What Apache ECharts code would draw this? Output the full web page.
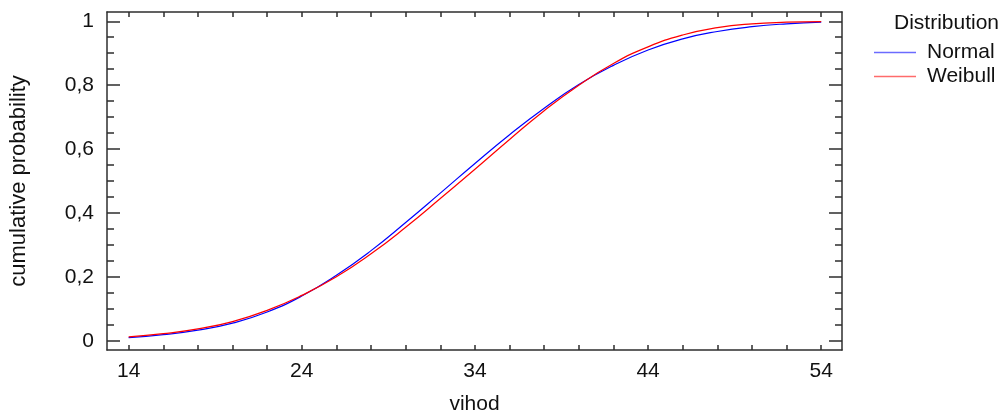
<!DOCTYPE html>
<html>
<head>
<meta charset="utf-8">
<script src="https://cdn.jsdelivr.net/npm/echarts@6/dist/echarts.min.js"></script>
<style>
  html, body { margin: 0; padding: 0; background: #fff; }
  #chart { width: 1002px; height: 414px; }
</style>
</head>
<body>
<div id="chart"></div>
<script>
// x values (vihod)
const xValues = [14, 16, 18, 20, 22, 24, 26, 28, 30, 32, 34, 36, 38, 40, 42, 44, 46, 48, 50, 52, 54];
// cumulative probability
const normalValues = [0.010, 0.019, 0.033, 0.055, 0.090, 0.140, 0.205, 0.282, 0.370, 0.462, 0.555, 0.645, 0.728, 0.802, 0.862, 0.910, 0.945, 0.968, 0.983, 0.992, 0.997];
const weibullValues = [0.012, 0.022, 0.037, 0.060, 0.095, 0.142, 0.200, 0.272, 0.355, 0.445, 0.537, 0.630, 0.720, 0.800, 0.868, 0.920, 0.957, 0.980, 0.992, 0.997, 0.999];

const xTickLabels = [14, 24, 34, 44, 54];
const xTicks = [14, 16, 18, 20, 22, 24, 26, 28, 30, 32, 34, 36, 38, 40, 42, 44, 46, 48, 50, 52, 54];
const yTickLabels = [0, 0.2, 0.4, 0.6, 0.8, 1];
const yMinorTicks = [0, 0.05, 0.1, 0.15, 0.2, 0.25, 0.3, 0.35, 0.4, 0.45, 0.5, 0.55, 0.6, 0.65, 0.7, 0.75, 0.8, 0.85, 0.9, 0.95, 1];

const font = 'Liberation Sans, Arial, sans-serif';
const axisColor = '#2e2e2e';
const xMin = 12.75, xMax = 55.2;
const yMin = -0.029, yMax = 1.029;

const chart = echarts.init(document.getElementById('chart'));

function xAxisDef(pos, labels) {
  return {
    type: 'value', position: pos, min: xMin, max: xMax,
    axisLine: { show: true, onZero: false, lineStyle: { color: axisColor, width: 1.5 } },
    axisTick: { show: true, inside: true, length: 5, customValues: xTicks, lineStyle: { color: axisColor, width: 1.5 } },
    axisLabel: { show: labels, customValues: xTickLabels, fontSize: 21, fontFamily: font, color: '#111', margin: 11 },
    splitLine: { show: false },
    name: labels ? 'vihod' : '', nameLocation: 'middle', nameGap: 44,
    nameTextStyle: { fontSize: 21, fontFamily: font, color: '#111' }
  };
}

function yAxisDef(pos, ticks, len, labels, line) {
  return {
    type: 'value', position: pos, min: yMin, max: yMax,
    axisLine: { show: line, onZero: false, lineStyle: { color: axisColor, width: 1.5 } },
    axisTick: { show: true, inside: true, length: len, customValues: ticks, lineStyle: { color: axisColor, width: 1.5 } },
    axisLabel: {
      show: labels, customValues: yTickLabels, fontSize: 21, fontFamily: font, color: '#111', margin: 13,
      formatter: v => String(v).replace('.', ',')
    },
    splitLine: { show: false },
    name: labels ? 'cumulative probability' : '', nameLocation: 'middle', nameGap: 77, nameRotate: 90,
    nameTextStyle: { fontSize: 22, fontFamily: font, color: '#111' }
  };
}

const option = {
  animation: false,
  title: {
    text: 'Distribution', left: 889, top: 8,
    textStyle: { fontSize: 21, fontWeight: 'normal', fontFamily: font, color: '#111' }
  },
  legend: {
    orient: 'vertical', left: 869, top: 37, itemWidth: 42, itemHeight: 1.5, itemGap: 3,
    data: [
      { name: 'Normal', icon: 'rect', itemStyle: { color: '#6b6bff' } },
      { name: 'Weibull', icon: 'rect', itemStyle: { color: '#ff6b6b' } }
    ],
    textStyle: { fontSize: 21, fontFamily: font, color: '#111', padding: [0, 0, 0, 6] }
  },
  grid: { left: 107, right: 160, top: 12, bottom: 64, outerBoundsMode: 'none', containLabel: false },
  xAxis: [xAxisDef('bottom', true), xAxisDef('top', false)],
  yAxis: [
    yAxisDef('left', yTickLabels, 13, true, true),
    yAxisDef('left', yMinorTicks, 7, false, false),
    yAxisDef('right', yTickLabels, 13, false, true),
    yAxisDef('right', yMinorTicks, 7, false, false)
  ],
  series: [
    {
      name: 'Normal', type: 'line', smooth: true, symbol: 'none',
      xAxisIndex: 0, yAxisIndex: 0,
      data: xValues.map((x, i) => [x, normalValues[i]]),
      itemStyle: { color: '#0000ff' },
      lineStyle: { color: '#0000ff', width: 1.2 }
    },
    {
      name: 'Weibull', type: 'line', smooth: true, symbol: 'none',
      xAxisIndex: 0, yAxisIndex: 0,
      data: xValues.map((x, i) => [x, weibullValues[i]]),
      itemStyle: { color: '#ff0000' },
      lineStyle: { color: '#ff0000', width: 1.2 }
    }
  ]
};

chart.setOption(option);
</script>
</body>
</html>
